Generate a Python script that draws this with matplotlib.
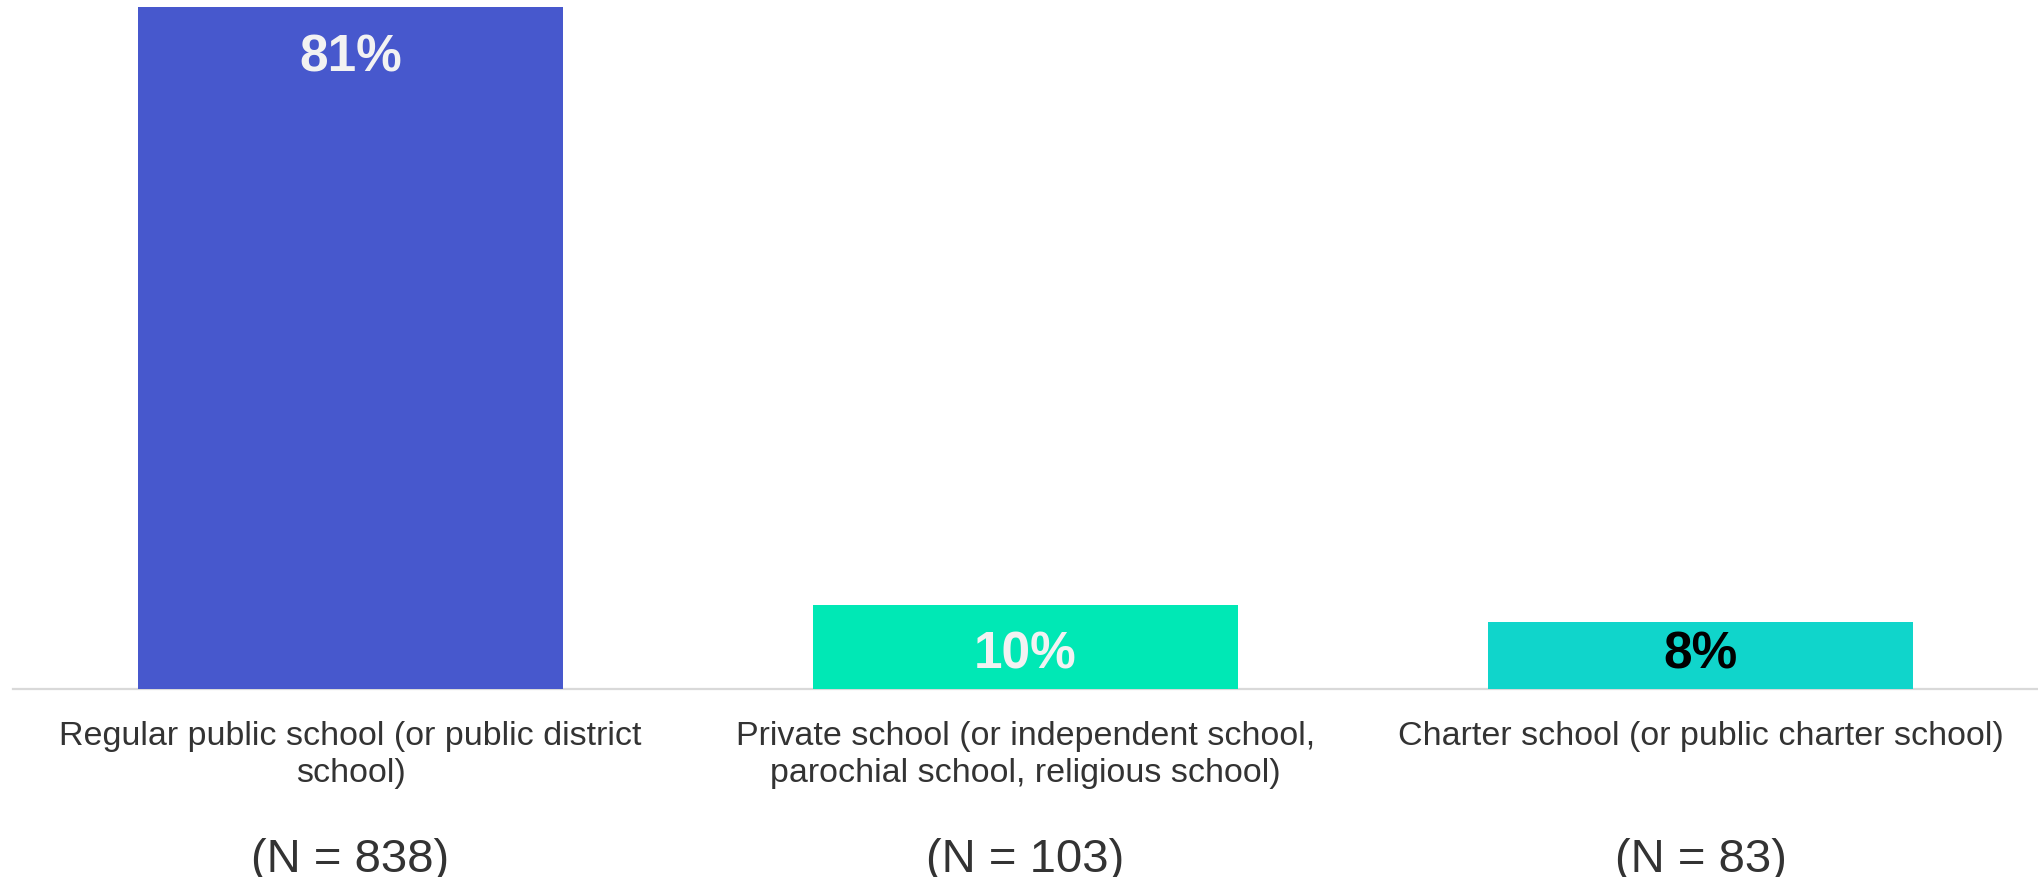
import matplotlib
matplotlib.use('Agg')
import matplotlib.pyplot as plt
import matplotlib.transforms as mtransforms
import numpy as np

# data
categories = [
    "Regular public school (or public district\nschool)",
    "Private school (or independent school,\nparochial school, religious school)",
    "Charter school (or public charter school)",
]
shares = [81, 10, 8]
sample_sizes = [838, 103, 83]
bar_colors = ["#4758CD", "#00E8B5", "#10D5CB"]
label_colors = ["#F2F2F2", "#F2F2F2", "#000000"]

plt.rcParams['font.family'] = ['Liberation Sans', 'DejaVu Sans']

fig = plt.figure(figsize=(20.38, 8.78), dpi=100)
ax = fig.add_axes([13 / 2038, 188 / 878, 2025 / 2038, 690 / 878])

x = np.arange(len(categories))
bars = ax.bar(x, shares, width=0.63, color=bar_colors, zorder=3)

ax.set_xlim(-0.5, len(categories) - 0.5)
ax.set_ylim(0, 82.0)

# value labels inside the bars (short bars keep the label at a minimum height)
for xi, v, c in zip(x, shares, label_colors):
    ax.text(xi, max(v - 5.9, 4.2), f"{v}%", ha='center', va='center',
            fontsize=37, fontweight='bold', color=c, zorder=4)

# category labels
ax.set_xticks(x)
ax.set_xticklabels(categories, fontsize=24.5, color="#333333", linespacing=1.27, va='top')
ax.tick_params(axis='x', length=0, pad=22)
ax.set_yticks([])

# sample sizes underneath
trans = mtransforms.blended_transform_factory(ax.transData, fig.transFigure)
for xi, n in zip(x, sample_sizes):
    ax.text(xi, 1 - 872 / 878, f"(N = {n})", transform=trans, ha='center', va='baseline',
            fontsize=34, color="#333333")

for side in ['left', 'right', 'top']:
    ax.spines[side].set_visible(False)
ax.spines['bottom'].set_color("#D9D9D9")
ax.spines['bottom'].set_linewidth(1.6)

fig.savefig("out.png", dpi=100)
